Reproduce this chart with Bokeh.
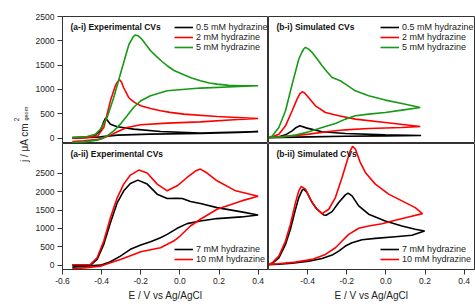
import math
from bokeh.plotting import figure
from bokeh.models import (Range1d, FixedTicker, PrintfTickFormatter, Label,
                          Legend, LegendItem)
from bokeh.layouts import row, column
from bokeh.embed import file_html
from bokeh.resources import INLINE

# ---------------- data ----------------
# (a-i) experimental, 0.5 / 2 / 5 mM
ai_E_05 = [-0.55, -0.48, -0.44, -0.406, -0.389, -0.38, -0.355, -0.32, -0.236, -0.099, 0.105, 0.4,
           0.3, 0.105, -0.15, -0.32, -0.406, -0.55]
ai_j_05 = [12, 25, 40, 150, 342, 412, 288, 233, 185, 136, 103, 135,
           115, 95, 82, 62, 27, 0]
ai_E_2 = [-0.55, -0.48, -0.42, -0.389, -0.355, -0.33, -0.32, -0.308, -0.298, -0.288, -0.275, -0.262, -0.25,
          -0.23, -0.2, -0.15, -0.099, -0.05, 0.02, 0.19, 0.4,
          0.275, 0.105, -0.065, -0.2, -0.27, -0.32, -0.355, -0.406, -0.49, -0.55]
ai_j_2 = [0, 10, 47, 218, 767, 1076, 1150, 1200, 1150, 1041, 940, 836, 790,
          730, 665, 610, 562, 530, 494, 445, 403,
          377, 335, 308, 274, 218, 130, 62, -21, -56, -70]
ai_E_5 = [-0.55, -0.474, -0.431, -0.406, -0.372, -0.338, -0.304, -0.27, -0.26, -0.245, -0.237, -0.227, -0.215,
          -0.2, -0.19, -0.176, -0.165, -0.15, -0.12, -0.09, -0.065, -0.03, 0.02, 0.06, 0.105, 0.15, 0.19,
          0.25, 0.308, 0.4,
          0.275, 0.105, -0.065, -0.15, -0.2, -0.237, -0.27, -0.304, -0.338, -0.372, -0.423, -0.49, -0.55]
ai_j_5 = [12, 33, 82, 185, 424, 836, 1317, 1797, 1930, 2037, 2090, 2120, 2105,
          2058, 2010, 1934, 1880, 1797, 1680, 1570, 1488, 1390, 1303, 1235, 1180, 1135, 1111,
          1085, 1076, 1076,
          1056, 1029, 973, 870, 767, 630, 459, 288, 150, 47, -41, -76, -90]

# (b-i) simulated, 0.5 / 2 / 5 mM
bi_E_05 = [-0.6, -0.547, -0.513, -0.479, -0.46, -0.44, -0.403, -0.326, -0.207, -0.003, 0.18,
           -0.003, -0.207, -0.39, -0.6]
bi_j_05 = [10, 30, 68, 150, 215, 253, 206, 130, 95, 68, 54,
           47, 40, 27, 10]
bi_E_2 = [-0.6, -0.58, -0.547, -0.513, -0.479, -0.454, -0.44, -0.428, -0.415, -0.403, -0.36, -0.309, -0.241,
          -0.156, -0.003, 0.176,
          0.082, -0.088, -0.207, -0.292, -0.394, -0.479, -0.547, -0.6]
bi_j_2 = [12, 27, 82, 253, 562, 802, 910, 953, 930, 870, 665, 527, 459,
          391, 322, 239,
          218, 198, 171, 136, 82, 47, 27, 12]
bi_E_5 = [-0.6, -0.58, -0.547, -0.513, -0.479, -0.445, -0.43, -0.42, -0.411, -0.395, -0.377, -0.35, -0.326,
          -0.3, -0.275, -0.233, -0.207, -0.156, -0.088, -0.003, 0.082, 0.176,
          0.082, -0.003, -0.088, -0.156, -0.207, -0.258, -0.326, -0.394, -0.462, -0.53, -0.6]
bi_j_5 = [12, 47, 218, 562, 1111, 1626, 1760, 1832, 1865, 1830, 1762, 1620, 1488,
          1360, 1248, 1179, 1111, 973, 870, 782, 712, 630,
          576, 527, 494, 459, 391, 300, 218, 130, 62, 27, 12]

# (a-ii) experimental, 7 / 10 mM
aii_E_7 = [-0.55, -0.457, -0.423, -0.389, -0.355, -0.32, -0.287, -0.253, -0.215, -0.167, -0.116, -0.065,
           -0.014, 0.012, 0.054, 0.105, 0.19, 0.315, 0.4,
           0.315, 0.19, 0.105, 0.037, -0.014, -0.065, -0.099, -0.15, -0.2, -0.253, -0.304, -0.355, -0.406, -0.55]
aii_j_7 = [8, 8, 163, 570, 1157, 1701, 2019, 2218, 2309, 2201, 1929, 1810,
           1820, 1810, 1729, 1674, 1565, 1450, 1367,
           1313, 1268, 1204, 1131, 1004, 840, 750, 643, 552, 435, 253, 98, 8, -46]
aii_E_10 = [-0.55, -0.457, -0.423, -0.389, -0.355, -0.32, -0.287, -0.253, -0.21, -0.167, -0.116, -0.065,
            -0.014, 0.037, 0.081, 0.105, 0.139, 0.19, 0.285, 0.4,
            0.315, 0.19, 0.105, 0.054, 0.001, -0.032, -0.099, -0.2, -0.236, -0.304, -0.355, -0.406, -0.49, -0.55]
aii_j_10 = [20, 27, 207, 660, 1293, 1837, 2201, 2445, 2581, 2500, 2201, 2019,
            2155, 2380, 2562, 2608, 2500, 2290, 2019, 1875,
            1747, 1521, 1250, 1068, 796, 660, 478, 370, 299, 163, 71, -19, -65, -92]

# (b-ii) simulated, 7 / 10 mM
bii_E_7 = [-0.6, -0.581, -0.547, -0.513, -0.488, -0.462, -0.445, -0.428, -0.42, -0.403, -0.377, -0.352,
           -0.318, -0.306, -0.275, -0.241, -0.207, -0.193, -0.173, -0.139, -0.088, -0.003, 0.082, 0.15, 0.198,
           0.133, 0.048, -0.054, -0.122, -0.173, -0.207, -0.241, -0.275, -0.326, -0.394, -0.479, -0.547, -0.6]
bii_j_7 = [8, 54, 207, 570, 978, 1521, 1837, 2037, 2065, 1973, 1701, 1521,
           1367, 1358, 1456, 1701, 1910, 1956, 1883, 1611, 1386, 1204, 1068, 978, 932,
           815, 778, 733, 696, 615, 524, 389, 280, 190, 117, 63, 36, 20]
bii_E_10 = [-0.6, -0.581, -0.547, -0.513, -0.488, -0.462, -0.445, -0.433, -0.411, -0.386, -0.36, -0.326,
            -0.292, -0.258, -0.224, -0.198, -0.182, -0.17, -0.156, -0.131, -0.105, -0.054, 0.014, 0.082, 0.15, 0.187,
            0.116, 0.048, -0.02, -0.088, -0.139, -0.19, -0.224, -0.258, -0.309, -0.377, -0.462, -0.547, -0.6]
bii_j_10 = [27, 71, 253, 660, 1114, 1701, 2019, 2136, 2065, 1793, 1565, 1402,
            1521, 1837, 2380, 2834, 3106, 3223, 3152, 2788, 2516, 2201, 1929, 1747, 1565, 1402,
            1312, 1223, 1130, 1068, 1005, 842, 660, 478, 299, 163, 90, 45, 27]

labels_top = ["0.5 mM hydrazine", "2 mM hydrazine", "5 mM hydrazine"]
labels_bot = ["7 mM hydrazine", "10 mM hydrazine"]
titles = ["(a-i) Experimental CVs", "(b-i) Simulated CVs",
          "(a-ii) Experimental CVs", "(b-ii) Simulated CVs"]
y_ticks = [0, 500, 1000, 1500, 2000, 2500]
x_ticks_left = [-0.6, -0.4, -0.2, 0.0, 0.2, 0.4]
x_ticks_right = [-0.4, -0.2, 0.0, 0.2, 0.4]

# ---------------- styling ----------------
FONT = "Liberation Sans"
FS = "8.5px"
AX = "#333333"
BLACK, RED, GREEN = "#000000", "#ff0000", "#169a16"
LW = 1.6

X_RANGE = (-0.6, 0.453)
Y_TOP = (-110, 2500)
Y_BOT = (-110, 3300)


def make_fig(width, height, bl, br, bt, bb, yr, xaxis, yaxis):
    p = figure(width=width, height=height, output_backend="svg", toolbar_location=None,
               x_range=Range1d(*X_RANGE), y_range=Range1d(*yr),
               x_axis_location="below" if xaxis else None,
               y_axis_location="left" if yaxis else None,
               min_border_left=bl, min_border_right=br, min_border_top=bt, min_border_bottom=bb)
    p.outline_line_color = AX
    p.outline_line_width = 1
    p.grid.visible = False
    p.background_fill_color = "white"
    p.border_fill_color = "white"
    for ax in p.axis:
        ax.axis_line_color = AX
        ax.major_tick_line_color = AX
        ax.minor_tick_line_color = None
        ax.major_tick_in = 0
        ax.major_tick_out = 5
        ax.major_label_text_font = FONT
        ax.major_label_text_font_size = FS
        ax.major_label_text_color = "#222222"
        ax.major_label_standoff = 3
    return p


W_LAB = 30
BL = 32
FW = 206
TOP_H = 143   # 16 top border + 127 frame
BOT_H = 163   # 126 frame + 37 bottom border

p1 = make_fig(BL + FW, TOP_H, BL, 0, 16, 0, Y_TOP, False, True)
p2 = make_fig(FW + 1, TOP_H, 0, 1, 16, 0, Y_TOP, False, False)
p3 = make_fig(BL + FW, BOT_H, BL, 0, 0, 37, Y_BOT, True, True)
p4 = make_fig(FW + 1, BOT_H, 0, 1, 0, 37, Y_BOT, True, False)

for p in (p1, p3):
    p.yaxis.ticker = FixedTicker(ticks=y_ticks)
p3.xaxis.ticker = FixedTicker(ticks=x_ticks_left)
p4.xaxis.ticker = FixedTicker(ticks=x_ticks_right)
for p in (p3, p4):
    p.xaxis.formatter = PrintfTickFormatter(format="%.1f")
    p.xaxis.axis_label = "E / V vs Ag/AgCl"
    p.xaxis.axis_label_text_font = FONT
    p.xaxis.axis_label_text_font_size = "10px"
    p.xaxis.axis_label_text_font_style = "normal"
    p.xaxis.axis_label_text_color = "#222222"
    p.xaxis.axis_label_standoff = 3


def add_series(p, series, labels, colors, leg_y):
    items = []
    for (E, j), lab, c in zip(series, labels, colors):
        r = p.line(E, j, line_color=c, line_width=LW)
        items.append(LegendItem(label=lab, renderers=[r]))
    leg = Legend(items=items, location=(112, leg_y), orientation="vertical",
                 border_line_color=None, background_fill_alpha=0,
                 padding=0, margin=0, spacing=0, glyph_width=19, glyph_height=10,
                 label_height=10, label_standoff=3,
                 label_text_font=FONT, label_text_font_size="9px", label_text_color="#222222")
    p.add_layout(leg, "center")


add_series(p1, [(ai_E_05, ai_j_05), (ai_E_2, ai_j_2), (ai_E_5, ai_j_5)],
           labels_top, [BLACK, RED, GREEN], 91)
add_series(p2, [(bi_E_05, bi_j_05), (bi_E_2, bi_j_2), (bi_E_5, bi_j_5)],
           labels_top, [BLACK, RED, GREEN], 91)
add_series(p3, [(aii_E_7, aii_j_7), (aii_E_10, aii_j_10)],
           labels_bot, [BLACK, RED], 5)
add_series(p4, [(bii_E_7, bii_j_7), (bii_E_10, bii_j_10)],
           labels_bot, [BLACK, RED], 5)

for p, t, fh in zip((p1, p2, p3, p4), titles, (127, 127, 126, 126)):
    p.add_layout(Label(x=8, y=fh - 10, x_units="screen", y_units="screen", text=t,
                       text_font=FONT, text_font_size=FS, text_font_style="bold",
                       text_color="#111111", text_baseline="middle", text_align="left"))

# y-axis label column
pl = figure(width=W_LAB, height=TOP_H + BOT_H, output_backend="svg", toolbar_location=None,
            x_range=Range1d(0, 1), y_range=Range1d(0, 1), x_axis_location=None,
            y_axis_location=None, min_border=0, outline_line_color=None)
pl.grid.visible = False
pl.add_layout(Label(x=23.5, y=164, x_units="screen", y_units="screen", text="j / μA cm",
                    angle=math.pi / 2, text_align="center", text_baseline="alphabetic",
                    text_font=FONT, text_font_size="10px", text_color="#222222"))
pl.add_layout(Label(x=15.5, y=187, x_units="screen", y_units="screen", text="2",
                    angle=math.pi / 2, text_align="center", text_baseline="alphabetic",
                    text_font=FONT, text_font_size="6.5px", text_color="#222222"))
pl.add_layout(Label(x=25, y=186, x_units="screen", y_units="screen", text="geom",
                    angle=math.pi / 2, text_align="left", text_baseline="alphabetic",
                    text_font=FONT, text_font_size="5.5px", text_color="#222222"))

layout = row(pl, column(row(p1, p2), row(p3, p4)))

open("out.html", "w").write(file_html(layout, INLINE))
